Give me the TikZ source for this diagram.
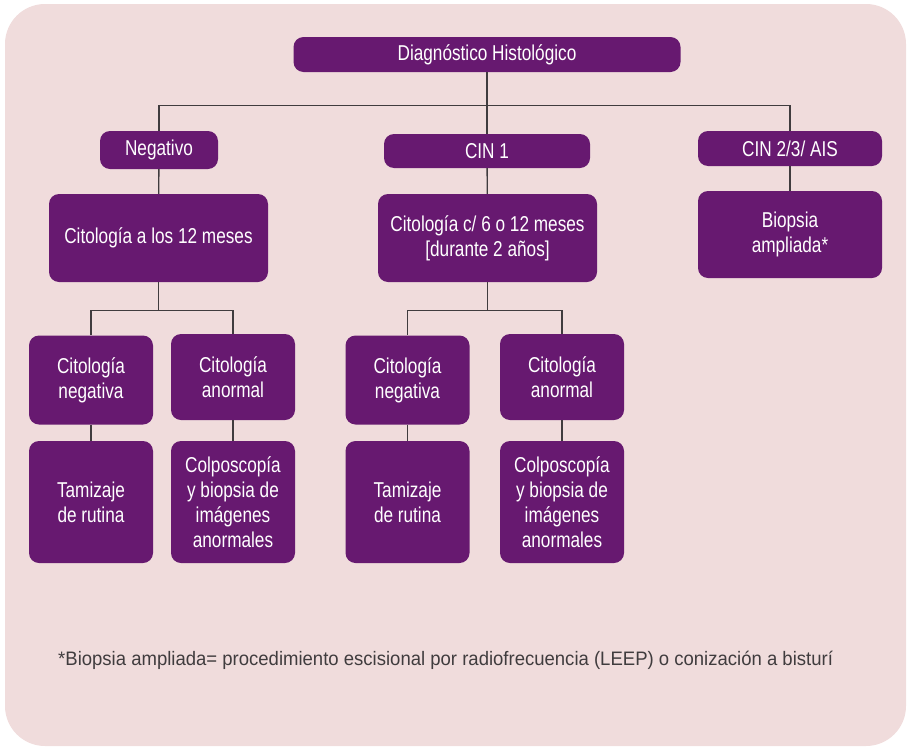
\documentclass[tikz,border=0pt]{standalone}
\usepackage{fontspec}
\setmainfont[FakeStretch=0.8]{Liberation Sans}
\newfontfamily\notafont[FakeStretch=0.95]{Liberation Sans}
\definecolor{morado}{RGB}{103,25,112}
\definecolor{rosa}{RGB}{240,220,220}
\definecolor{linea}{RGB}{64,60,62}

\begin{document}
\begin{tikzpicture}[x=1pt,y=-1pt,
  caja/.style={fill=morado, text=white, rounded corners=10pt, align=center,
    inner sep=0pt, font=\fontsize{21.5}{25}\selectfont},
  enlace/.style={draw=linea, line width=1.3pt}]
  \useasboundingbox (0,0) rectangle (908,747);
  \fill[rosa, rounded corners=40pt] (5,4) rectangle (906,746);

  \node[caja, minimum width=387pt, minimum height=35pt] (diag) at (487,54.5) {Diagnóstico Histológico};
  \node[caja, minimum width=118pt, minimum height=38pt] (neg) at (159,150) {Negativo};
  \node[caja, minimum width=206pt, minimum height=34pt] (cin1) at (487,151) {CIN 1};
  \node[caja, minimum width=184pt, minimum height=35pt] (cin23) at (790,148.5) {CIN 2/3/ AIS};

  \node[caja, minimum width=219pt, minimum height=88pt] (cit12) at (158.5,238) {Citología a los 12 meses};
  \node[caja, minimum width=219pt, minimum height=88pt] (cit612) at (487.5,238) {Citología c/ 6 o 12 meses\\{}[durante 2 años]};
  \node[caja, minimum width=184pt, minimum height=87pt] (biop) at (790,234.5) {Biopsia\\ampliada*};

  \draw[enlace] (diag) -- (cin1);
  \draw[enlace] (diag.south) -- ++(0,33) coordinate (barra);
  \draw[enlace] (barra) -| (neg);
  \draw[enlace] (barra) -| (cin23);
  \draw[enlace] (neg) -- (cit12);
  \draw[enlace] (cin1) -- (cit612);
  \draw[enlace] (cin23) -- (biop);

  \foreach \p/\xa/\xb/\padre in {l/91/233/cit12, m/407.5/562/cit612} {
    \node[caja, minimum width=124pt, minimum height=89pt] (neg\p) at (\xa,380) {Citología\\negativa};
    \node[caja, minimum width=124pt, minimum height=86pt] (anor\p) at (\xb,377) {Citología\\anormal};
    \node[caja, minimum width=124pt, minimum height=122pt] (tam\p) at (\xa,502) {Tamizaje\\de rutina};
    \node[caja, minimum width=124pt, minimum height=122pt] (col\p) at (\xb,502) {Colposcopía\\y biopsia de\\imágenes\\anormales};
    \draw[enlace] (\padre.south) -- ++(0,28) coordinate (barra\p);
    \draw[enlace] (barra\p) -| (neg\p);
    \draw[enlace] (barra\p) -| (anor\p);
    \draw[enlace] (neg\p) -- (tam\p);
    \draw[enlace] (anor\p) -- (col\p);
  }

  \node[anchor=west, inner sep=0pt, text=linea, font=\notafont\fontsize{19.5}{23}\selectfont] (nota) at (58,660)
    {*Biopsia ampliada= procedimiento escisional por radiofrecuencia (LEEP) o conización a bisturí};
\end{tikzpicture}
\end{document}
